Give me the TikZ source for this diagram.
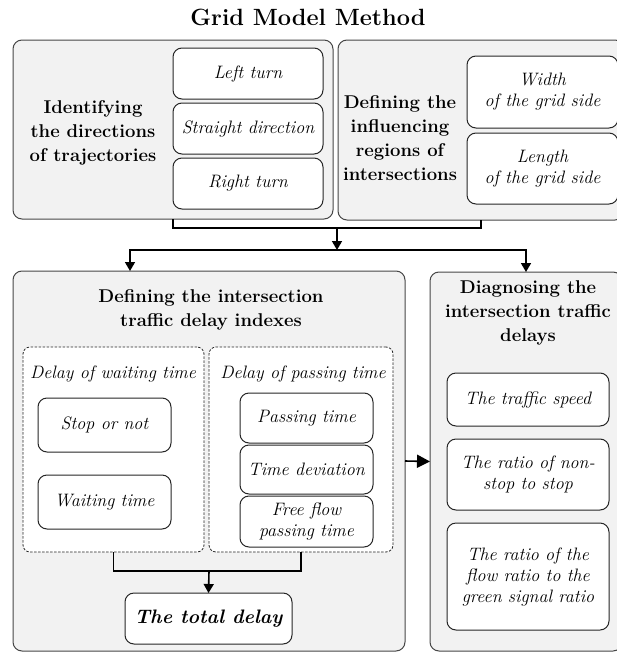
\documentclass[tikz,border=0pt]{standalone}
\usepackage{tikz}
\usetikzlibrary{arrows.meta, positioning, calc}
\definecolor{panelgray}{RGB}{242,242,242}
\definecolor{framegray}{RGB}{70,70,70}

\begin{document}
\begin{tikzpicture}[
    x=1pt, y=-1pt,
    every node/.style={inner sep=0pt, outer sep=0pt},
    panel/.style={rectangle, draw=framegray, fill=panelgray, rounded corners=9pt, line width=1pt},
    group/.style={rectangle, draw=black!85, dash pattern=on 2.5pt off 1.5pt, fill=white, rounded corners=7pt, line width=0.8pt},
    item/.style={rectangle, draw=black!85, fill=white, rounded corners=9pt, line width=1pt, align=center, font=\fontsize{18}{21}\selectfont\itshape},
    head/.style={align=center, font=\fontsize{18.5}{24}\selectfont\bfseries},
    note/.style={font=\fontsize{18}{21}\selectfont\itshape},
    link/.style={line width=1.6pt},
    arrow/.style={-{Triangle[length=9pt, width=10pt]}, line width=1.6pt}
]
\useasboundingbox (0,0) rectangle (616,653);

\node[font=\fontsize{23.5}{27}\selectfont\bfseries] (title) at (308,17) {Grid Model Method};

% top row
\node[panel, minimum width=320pt, minimum height=179pt] (traj) at (173,129.5) {};
\node[head] (trajhead) at (93,133) {Identifying\\the directions\\of trajectories};
\node[item, minimum width=150pt, minimum height=51pt] (left) at (248,73.5) {Left turn};
\node[item, minimum width=150pt, minimum height=51pt, below=4pt of left] (straight) {Straight direction};
\node[item, minimum width=150pt, minimum height=51pt, below=4pt of straight] (right) {Right turn};

\node[panel, minimum width=286pt, minimum height=180pt] (regions) at (481,130) {};
\node[head] (regionshead) at (400,138) {Defining the\\influencing\\regions of\\intersections};
\node[item, minimum width=151pt, minimum height=72pt] (width) at (542.5,92) {Width\\of the grid side};
\node[item, minimum width=151pt, minimum height=71pt, below=5pt of width] (length) {Length\\of the grid side};

% bottom left
\node[panel, minimum width=392pt, minimum height=380pt] (indexes) at (209,461) {};
\node[head] (indexeshead) at (211,310) {Defining the intersection\\traffic delay indexes};
\node[group, minimum width=181pt, minimum height=205pt] (waitgrp) at (113.5,449.5) {};
\node[group, minimum width=184pt, minimum height=205pt] (passgrp) at (301,449.5) {};
\node[note] (waitnote) at (113,374) {Delay of waiting time};
\node[note] (passnote) at (303,374) {Delay of passing time};
\node[item, minimum width=133pt, minimum height=54pt] (stop) at (104.5,425) {Stop or not};
\node[item, minimum width=133pt, minimum height=54pt] (waiting) at (104.5,502) {Waiting time};
\node[item, minimum width=133pt, minimum height=50pt] (passing) at (306.5,418) {Passing time};
\node[item, minimum width=133pt, minimum height=49pt, below=2pt of passing] (deviation) {Time deviation};
\node[item, minimum width=133pt, minimum height=51pt, below=2pt of deviation] (freeflow) {Free flow\\passing time};
\node[item, minimum width=167pt, minimum height=51pt, font=\fontsize{19.5}{23}\selectfont\bfseries\itshape] (total) at (208.5,618.5) {The total delay};

% bottom right
\node[panel, minimum width=192pt, minimum height=379pt] (diagnose) at (526,461.5) {};
\node[head] (diagnosehead) at (528,313) {Diagnosing the\\intersection traffic\\delays};
\node[item, minimum width=162pt, minimum height=53pt] (speed) at (528,399.5) {The traffic speed};
\node[item, minimum width=162pt, minimum height=71pt] (nonstop) at (528,474.5) {The ratio of non-\\stop to stop};
\node[item, minimum width=162pt, minimum height=107pt] (greenratio) at (528,576.5) {The ratio of the\\flow ratio to the\\green signal ratio};

% connectors
\coordinate (topjoin) at (337,228);
\coordinate (split) at (337,250);
\coordinate (botjoin) at (209,571);

\draw[link] (traj.south) |- (topjoin);
\draw[link] (regions.south) |- (topjoin);
\draw[arrow] (topjoin) -- (split);
\draw[link] ([xshift=-79pt]indexes.north |- split) -- (diagnose.north |- split);
\draw[arrow] (split) -| ([xshift=-79pt]indexes.north);
\draw[arrow] (split) -| (diagnose.north);
\draw[link] (waitgrp.south) |- (botjoin);
\draw[link] (passgrp.south) |- (botjoin);
\draw[arrow] (botjoin) -- (total.north);
\draw[arrow, -{Triangle[length=13pt, width=13pt]}] (indexes.east) -- (diagnose.west);

\end{tikzpicture}
\end{document}
